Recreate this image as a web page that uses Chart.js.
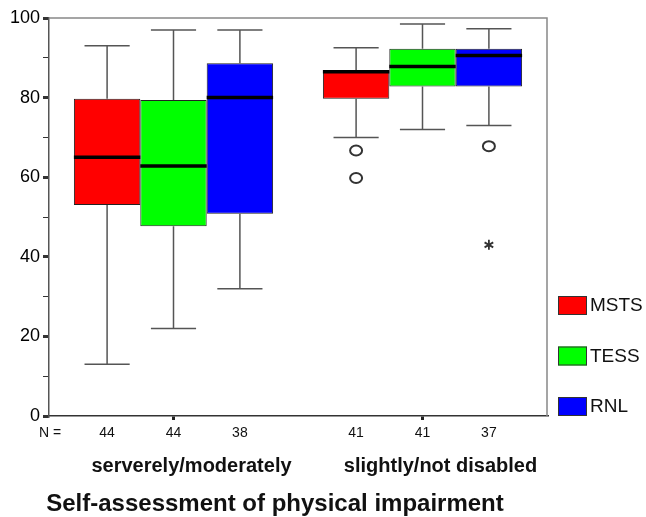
<!DOCTYPE html>
<html>
<head>
<meta charset="utf-8">
<script src="https://cdn.jsdelivr.net/npm/chart.js@4.4.1/dist/chart.umd.min.js"></script>
<style>
    html, body { margin: 0; padding: 0; background: #fff; }
</style>
</head>
<body>
<canvas id="chart" width="646" height="517"></canvas>
<script>
const categories = ['serverely/moderately', 'slightly/not disabled'];
const seriesNames = ['MSTS', 'TESS', 'RNL'];
const seriesColors = ['#ff0000', '#00ff00', '#0000ff'];

// one entry per series, each with [group 1, group 2]
const whiskerLow = [[13, 70], [22, 72], [32, 73]];
const q1 = [[53, 79.7], [47.7, 82.8], [50.8, 82.8]];
const median = [[65, 86.5], [62.8, 87.8], [80, 90.6]];
const q3 = [[79.7, 86.8], [79.4, 92.3], [88.6, 92.3]];
const whiskerHigh = [[93, 92.5], [97, 98.5], [97, 97.3]];
const outliers = [[[], [66.7, 59.8]], [[], []], [[], [67.8]]];
const extremes = [[[], []], [[], []], [[], [43]]];
const counts = [[44, 41], [44, 41], [38, 37]];

const xTitle = 'Self-assessment of physical impairment';
const fontFamily = '"Liberation Sans", Arial, sans-serif';

const boxPlotExtras = {
    id: 'boxPlotExtras',
    afterDatasetsDraw(chart) {
        const ctx = chart.ctx;
        const y = chart.scales.y;
        ctx.save();
        chart.data.datasets.forEach((ds, i) => {
            const meta = chart.getDatasetMeta(i);
            meta.data.forEach((bar, j) => {
                const x = bar.x;
                const w = bar.width;
                const capW = w * 0.68;
                const hi = y.getPixelForValue(whiskerHigh[i][j]);
                const lo = y.getPixelForValue(whiskerLow[i][j]);

                // whiskers
                ctx.strokeStyle = '#555';
                ctx.lineWidth = 1.5;
                ctx.beginPath();
                ctx.moveTo(x, y.getPixelForValue(q3[i][j]));
                ctx.lineTo(x, hi);
                ctx.moveTo(x, y.getPixelForValue(q1[i][j]));
                ctx.lineTo(x, lo);
                ctx.moveTo(x - capW / 2, hi);
                ctx.lineTo(x + capW / 2, hi);
                ctx.moveTo(x - capW / 2, lo);
                ctx.lineTo(x + capW / 2, lo);
                ctx.stroke();

                // median
                ctx.strokeStyle = '#000';
                ctx.lineWidth = 3.5;
                const my = y.getPixelForValue(median[i][j]);
                ctx.beginPath();
                ctx.moveTo(x - w / 2, my);
                ctx.lineTo(x + w / 2, my);
                ctx.stroke();

                // outliers
                ctx.strokeStyle = '#333';
                ctx.lineWidth = 2;
                outliers[i][j].forEach(v => {
                    ctx.beginPath();
                    ctx.ellipse(x, y.getPixelForValue(v), 6, 5, 0, 0, Math.PI * 2);
                    ctx.stroke();
                });

                // extremes (asterisk)
                ctx.lineWidth = 1.8;
                extremes[i][j].forEach(v => {
                    const py = y.getPixelForValue(v);
                    ctx.beginPath();
                    for (let a = 0; a < 3; a++) {
                        const ang = Math.PI / 2 + a * Math.PI / 3;
                        ctx.moveTo(x - Math.cos(ang) * 5, py - Math.sin(ang) * 5);
                        ctx.lineTo(x + Math.cos(ang) * 5, py + Math.sin(ang) * 5);
                    }
                    ctx.stroke();
                });
            });
        });
        ctx.restore();
    },
    afterDraw(chart) {
        const ctx = chart.ctx;
        const area = chart.chartArea;
        const xs = chart.scales.x;
        ctx.save();

        // frame on top and right
        ctx.strokeStyle = '#888';
        ctx.lineWidth = 1.5;
        ctx.beginPath();
        ctx.moveTo(area.left, area.top);
        ctx.lineTo(area.right, area.top);
        ctx.lineTo(area.right, area.bottom);
        ctx.stroke();

        // N counts
        ctx.fillStyle = '#111';
        ctx.font = '14px ' + fontFamily;
        ctx.textAlign = 'center';
        ctx.textBaseline = 'middle';
        ctx.fillText('N =', area.left + 1, area.bottom + 17);
        chart.data.datasets.forEach((ds, i) => {
            chart.getDatasetMeta(i).data.forEach((bar, j) => {
                ctx.fillText(String(counts[i][j]), bar.x, area.bottom + 17);
            });
        });

        // group labels
        ctx.fillStyle = '#111';
        ctx.font = 'bold 20px ' + fontFamily;
        categories.forEach((c, j) => {
            ctx.fillText(c, xs.getPixelForValue(j) + 18, area.bottom + 50);
        });

        // axis title
        ctx.font = 'bold 24px ' + fontFamily;
        ctx.fillText(xTitle, 275, area.bottom + 88);

        // legend
        ctx.textAlign = 'left';
        ctx.font = '19px ' + fontFamily;
        const n = chart.data.datasets.length;
        chart.data.datasets.forEach((ds, i) => {
            const top = area.bottom - 19 - (n - 1 - i) * 50.5;
            ctx.fillStyle = ds.backgroundColor;
            ctx.fillRect(558, top, 29, 19);
            ctx.strokeStyle = '#333';
            ctx.lineWidth = 1;
            ctx.strokeRect(558.5, top + 0.5, 28, 18);
            ctx.fillStyle = '#111';
            ctx.fillText(ds.label, 590, top + 10);
        });
        ctx.restore();
    }
};

new Chart(document.getElementById('chart'), {
    type: 'bar',
    data: {
        labels: categories,
        datasets: seriesNames.map((name, i) => ({
            label: name,
            data: categories.map((c, j) => [q1[i][j], q3[i][j]]),
            backgroundColor: seriesColors[i],
            borderColor: '#222',
            borderWidth: 1,
            borderSkipped: false,
            categoryPercentage: 0.8,
            barPercentage: 1.0
        }))
    },
    options: {
        responsive: false,
        animation: false,
        layout: { padding: { top: 18, right: 99, left: 0, bottom: 0 } },
        plugins: {
            legend: { display: false },
            tooltip: { enabled: false }
        },
        scales: {
            x: {
                ticks: { display: false },
                grid: {
                    offset: false,
                    drawOnChartArea: false,
                    tickLength: 4,
                    lineWidth: 3,
                    color: '#222'
                },
                border: { color: '#333', width: 1.5 },
                afterFit: (scale) => { scale.height = 101; }
            },
            y: {
                min: 0,
                max: 100,
                ticks: {
                    stepSize: 10,
                    autoSkip: false,
                    padding: 3,
                    color: '#000',
                    font: { family: fontFamily, size: 18 },
                    callback: (v) => (v % 20 === 0 ? v : '')
                },
                grid: {
                    drawOnChartArea: false,
                    tickLength: 6,
                    color: '#333',
                    lineWidth: (c) => (c.tick && c.tick.value % 20 === 0 ? 3 : 1)
                },
                border: { color: '#555', width: 1.5 },
                afterFit: (scale) => { scale.width = 49; }
            }
        }
    },
    plugins: [boxPlotExtras]
});
</script>
</body>
</html>
